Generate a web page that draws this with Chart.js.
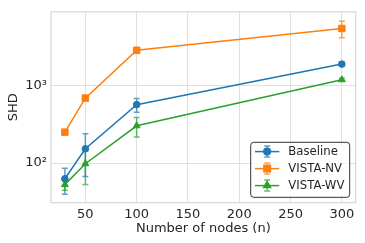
<!DOCTYPE html>
<html>
<head>
<meta charset="utf-8">
<script src="https://cdn.jsdelivr.net/npm/chart.js@4.4.1/dist/chart.umd.min.js"></script>
<style>
  html, body { margin: 0; padding: 0; background: #fff; }
  #wrap { width: 365px; height: 243px; }
</style>
</head>
<body>
<div id="wrap"><canvas id="chart" width="365" height="243"></canvas></div>
<script>
// Values
const nodes = [30, 50, 100, 300];
const baseline = [62.7, 153, 568, 1897];
const baselineErr = [23, 86, 116, 110];
const vistaNV = [251, 690, 2857, 5470];
const vistaNVErr = [10, 30, 100, 1320];
const vistaWV = [52.7, 98, 303, 1191];
const vistaWVErr = [8, 45, 86, 50];
const xTicks = [50, 100, 150, 200, 250, 300];
const yTicks = [100, 1000];
const yTickLabels = ["10²", "10³"];

const FONT = "'DejaVu Sans', sans-serif";
const TEXT = "#262626";
const GRID = "#e0e0e0";

function points(ys) {
  return nodes.map((n, i) => ({ x: n, y: ys[i] }));
}

// Draw the light frame round the plot area
const frame = {
  id: "frame",
  beforeDatasetsDraw(chart) {
    const { ctx, chartArea: a } = chart;
    ctx.save();
    ctx.strokeStyle = "#d6d6d6";
    ctx.lineWidth = 1.2;
    ctx.strokeRect(a.left, a.top, a.right - a.left, a.bottom - a.top);
    ctx.restore();
  }
};

// Error bars, drawn under the lines
const errorBars = {
  id: "errorBars",
  beforeDatasetsDraw(chart) {
    const { ctx, scales: { x, y } } = chart;
    chart.data.datasets.forEach(ds => {
      ctx.save();
      ctx.strokeStyle = ds.borderColor;
      ctx.globalAlpha = 0.7;
      ctx.lineWidth = 1.5;
      ds.data.forEach((p, i) => {
        const px = x.getPixelForValue(p.x);
        const top = y.getPixelForValue(p.y + ds.err[i]);
        const bot = y.getPixelForValue(p.y - ds.err[i]);
        ctx.beginPath();
        ctx.moveTo(px, top); ctx.lineTo(px, bot);
        ctx.moveTo(px - 3, top); ctx.lineTo(px + 3, top);
        ctx.moveTo(px - 3, bot); ctx.lineTo(px + 3, bot);
        ctx.stroke();
      });
      ctx.restore();
    });
  }
};

// Legend in the lower right corner, with error bar handles
const cornerLegend = {
  id: "cornerLegend",
  afterDraw(chart) {
    const { ctx, chartArea: a } = chart;
    const w = 99, h = 55;
    const right = a.right - 6, bottom = a.bottom - 5.4;
    const left = right - w, top = bottom - h;
    ctx.save();
    ctx.globalAlpha = 0.85;
    ctx.fillStyle = "#fff";
    ctx.beginPath();
    ctx.roundRect(left, top, w, h, 3);
    ctx.fill();
    ctx.globalAlpha = 1;
    ctx.strokeStyle = "#333";
    ctx.lineWidth = 1;
    ctx.stroke();

    chart.data.datasets.forEach((ds, i) => {
      const cy = top + 9.3 + i * 17;
      const x0 = left + 4.3, x1 = left + 28.6, cx = (x0 + x1) / 2;
      ctx.strokeStyle = ds.borderColor;
      ctx.lineWidth = 1.5;
      ctx.globalAlpha = 0.7;
      ctx.beginPath();
      ctx.moveTo(cx, cy - 5.5); ctx.lineTo(cx, cy + 5.5);
      ctx.moveTo(cx - 3, cy - 5.5); ctx.lineTo(cx + 3, cy - 5.5);
      ctx.moveTo(cx - 3, cy + 5.5); ctx.lineTo(cx + 3, cy + 5.5);
      ctx.stroke();
      ctx.globalAlpha = 1;
      ctx.beginPath();
      ctx.moveTo(x0, cy); ctx.lineTo(x1, cy);
      ctx.stroke();
      ctx.fillStyle = ds.borderColor;
      Chart.helpers.drawPoint(ctx, {
        pointStyle: ds.pointStyle, radius: ds.pointRadius, rotation: 0, borderWidth: 1
      }, cx, cy);
      ctx.fillStyle = TEXT;
      ctx.font = "11.7px " + FONT;
      ctx.textBaseline = "middle";
      ctx.fillText(ds.label, left + 37.6, cy);
    });
    ctx.restore();
  }
};

new Chart(document.getElementById("chart"), {
  type: "line",
  data: {
    datasets: [
      {
        label: "Baseline",
        data: points(baseline),
        err: baselineErr,
        borderColor: "#1f77b4",
        backgroundColor: "#1f77b4",
        pointStyle: "circle",
        pointRadius: 3.3
      },
      {
        label: "VISTA-NV",
        data: points(vistaNV),
        err: vistaNVErr,
        borderColor: "#ff7f0e",
        backgroundColor: "#ff7f0e",
        pointStyle: "rect",
        pointRadius: 4.6
      },
      {
        label: "VISTA-WV",
        data: points(vistaWV),
        err: vistaWVErr,
        borderColor: "#2ca02c",
        backgroundColor: "#2ca02c",
        pointStyle: "triangle",
        pointRadius: 4
      }
    ]
  },
  options: {
    responsive: false,
    devicePixelRatio: 1,
    animation: false,
    layout: { padding: { top: 8, right: 9.3, left: 0, bottom: 0 } },
    elements: {
      line: { borderWidth: 1.5, tension: 0 },
      point: { borderWidth: 1, hoverRadius: 4 }
    },
    plugins: {
      legend: { display: false },
      tooltip: { enabled: false }
    },
    scales: {
      x: {
        type: "linear",
        min: 16.5,
        max: 313.5,
        afterBuildTicks: scale => { scale.ticks = xTicks.map(v => ({ value: v })); },
        afterFit: scale => { scale.height = 40.3; },
        grid: { color: GRID, drawTicks: false },
        border: { display: false },
        ticks: {
          padding: 4,
          color: TEXT,
          font: { family: FONT, size: 13 },
          maxRotation: 0
        },
        title: {
          display: true,
          text: "Number of nodes (n)",
          color: TEXT,
          font: { family: FONT, size: 13 },
          padding: { top: 0, bottom: 7 }
        }
      },
      y: {
        type: "logarithmic",
        min: 30.8,
        max: 8980,
        afterBuildTicks: scale => { scale.ticks = yTicks.map(v => ({ value: v })); },
        afterFit: scale => { scale.width = 51; },
        grid: { color: GRID, drawTicks: false },
        border: { display: false },
        ticks: {
          padding: 4,
          color: TEXT,
          font: { family: FONT, size: 13 },
          callback: value => yTickLabels[yTicks.indexOf(value)]
        },
        title: {
          display: true,
          text: "SHD",
          color: TEXT,
          font: { family: FONT, size: 13 },
          padding: { top: 6, bottom: 0 }
        }
      }
    }
  },
  plugins: [frame, errorBars, cornerLegend]
});
</script>
</body>
</html>
